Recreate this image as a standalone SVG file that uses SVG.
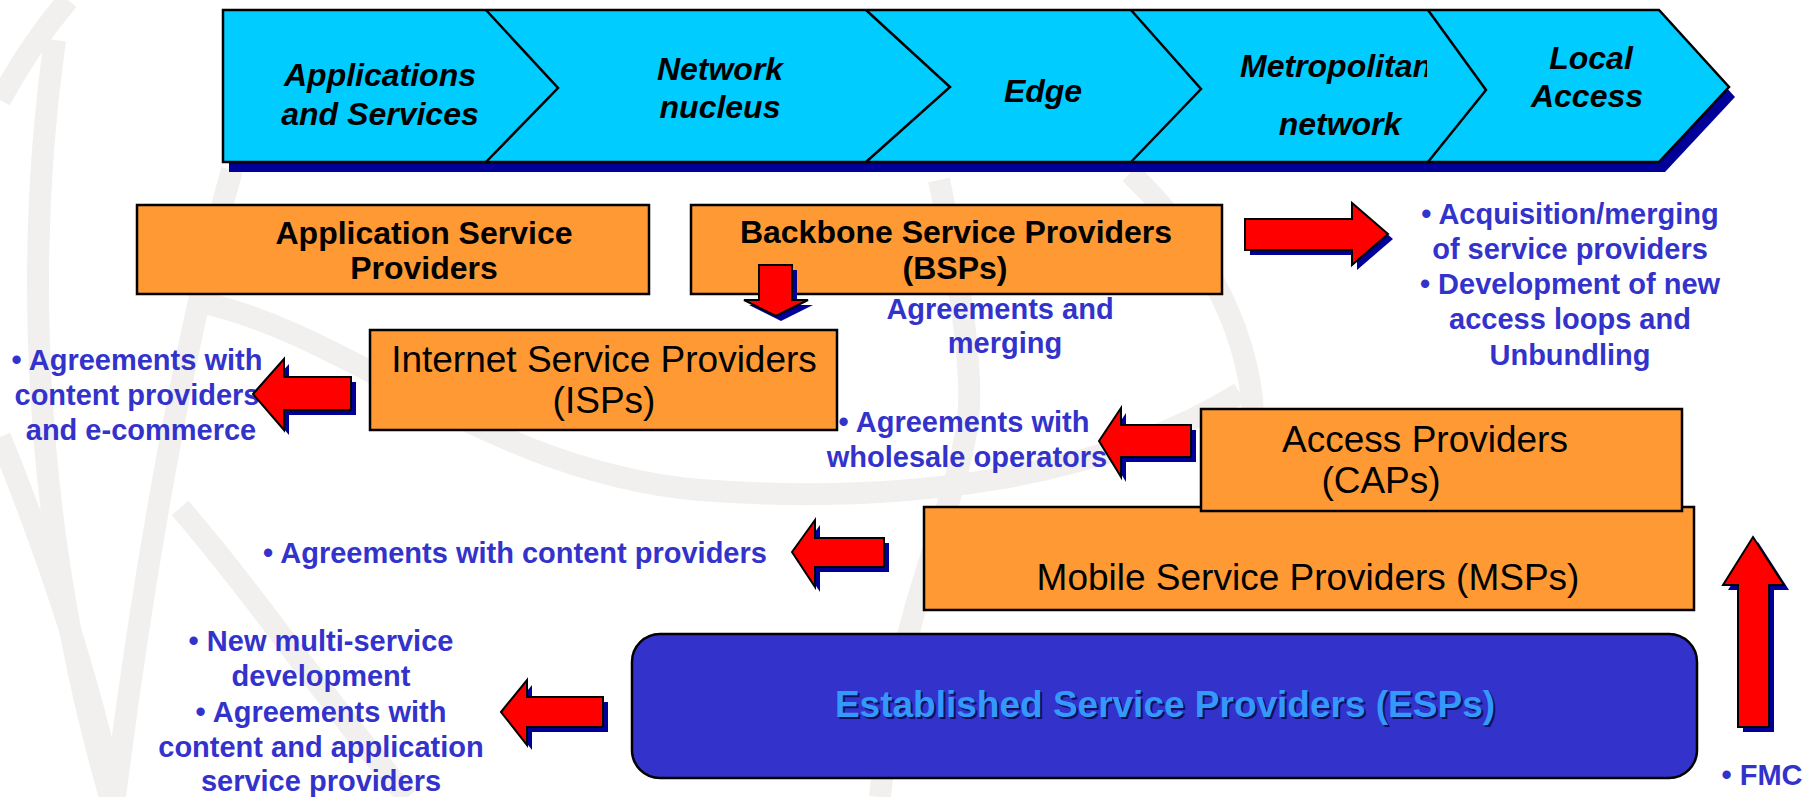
<svg xmlns="http://www.w3.org/2000/svg" xmlns:xlink="http://www.w3.org/1999/xlink" width="1815" height="797" viewBox="0 0 1815 797">
  <style>
    .bg { fill: none; stroke: #F1F0EE; stroke-width: 22; }
    .band { fill: #00CCFF; stroke: #000; stroke-width: 2.5; stroke-linejoin: miter; }
    .sep { fill: none; stroke: #000; stroke-width: 2.5; }
    .navy { fill: #000099; stroke: none; }
    .box { fill: #FF9933; stroke: #000; stroke-width: 2.5; }
    .esp { fill: #3333CC; stroke: #000; stroke-width: 2.5; }
    .arr { fill: #FF0000; stroke: #000; stroke-width: 2; stroke-linejoin: miter; }
    .bi { font-family: "Liberation Sans", Arial, sans-serif; font-size: 32px; font-weight: bold; font-style: italic; fill: #000; text-anchor: middle; }
    .bb { font-family: "Liberation Sans", Arial, sans-serif; font-size: 32px; font-weight: bold; fill: #000; text-anchor: middle; }
    .rg { font-family: "Liberation Sans", Arial, sans-serif; font-size: 37px; fill: #000; text-anchor: middle; }
    .bl { font-family: "Liberation Sans", Arial, sans-serif; font-size: 29px; font-weight: bold; fill: #3333CC; text-anchor: middle; }
    .et { font-family: "Liberation Sans", Arial, sans-serif; font-size: 37px; font-weight: bold; text-anchor: middle; }
  </style>
  <defs>
    <clipPath id="metroClip"><rect x="1200" y="40" width="227" height="50"/></clipPath>
    <polygon id="aISP" points="253,394 284,359 284,377 351,377 351,410 284,410 284,430"/>
    <polygon id="aCAP" points="1099,441 1121,408 1121,425 1191,425 1191,457 1121,457 1121,477"/>
    <polygon id="aMSP" points="792,552 815,520 815,538 884,538 884,567 815,567 815,587"/>
    <polygon id="aESP" points="501,712 527,680 527,697 603,697 603,727 527,727 527,745"/>
    <polygon id="aBSP" points="1245,219 1352,219 1352,203 1388,234 1352,265 1352,250 1245,250"/>
    <polygon id="aDown" points="759,265 792,265 792,300 808,300 776,316 744,300 759,300"/>
    <polygon id="aUp" points="1753,537 1784,585 1769,585 1769,727 1738,727 1738,585 1723,585"/>
  </defs>

  <rect x="0" y="0" width="1815" height="797" fill="#FFFFFF"/>

  <g id="background">
    <path class="bg" d="M 68,0 Q 30,45 0,100"/>
    <path class="bg" d="M 55,40 C 25,250 30,520 110,797"/>
    <path class="bg" d="M 232,170 C 195,300 150,520 115,797"/>
    <path class="bg" d="M 180,508 C 260,600 340,720 408,797"/>
    <path class="bg" d="M 0,437 C 50,560 90,680 114,797"/>
    <path class="bg" d="M 190,300 C 350,330 480,470 700,490 C 900,505 1100,480 1240,393"/>
    <path class="bg" d="M 939,180 C 960,280 975,380 967,427 C 950,530 900,600 880,797"/>
    <path class="bg" d="M 1130,173 C 1180,220 1240,300 1252,398 C 1258,470 1230,540 1214,563"/>
  </g>

  <g id="banner">
    <polygon class="navy" points="229,20 1665,20 1735,97 1665,172 229,172"/>
    <polygon class="band" points="223,10 1659,10 1729,87 1659,162 223,162"/>
    <polyline class="sep" points="486,10 558,88 486,162"/>
    <polyline class="sep" points="866,10 950,87 866,162"/>
    <polyline class="sep" points="1131,10 1201,89 1131,162"/>
    <polyline class="sep" points="1428,10 1486,90 1428,162"/>
    <text class="bi" x="380" y="86">Applications</text>
    <text class="bi" x="380" y="125">and Services</text>
    <text class="bi" x="720" y="80">Network</text>
    <text class="bi" x="720" y="118">nucleus</text>
    <text class="bi" x="1043" y="102">Edge</text>
    <text class="bi" x="1240" y="77" clip-path="url(#metroClip)" style="text-anchor:start">Metropolitan</text>
    <text class="bi" x="1340" y="135">network</text>
    <text class="bi" x="1591" y="69">Local</text>
    <text class="bi" x="1587" y="107">Access</text>
  </g>

  <g id="asp">
    <rect class="box" x="137" y="205" width="512" height="89"/>
    <text class="bb" x="424" y="244">Application Service</text>
    <text class="bb" x="424" y="279">Providers</text>
  </g>

  <g id="bsp">
    <rect class="box" x="691" y="205" width="531" height="89"/>
    <text class="bb" x="956" y="243">Backbone Service Providers</text>
    <text class="bb" x="955" y="279">(BSPs)</text>
  </g>

  <g id="isp">
    <rect class="box" x="370" y="330" width="467" height="100"/>
    <text class="rg" x="604" y="372">Internet Service Providers</text>
    <text class="rg" x="604" y="413">(ISPs)</text>
  </g>

  <g id="msp">
    <rect class="box" x="924" y="507" width="770" height="103"/>
    <text class="rg" x="1308" y="590">Mobile Service Providers (MSPs)</text>
  </g>

  <g id="cap">
    <rect class="box" x="1201" y="409" width="481" height="102"/>
    <text class="rg" x="1425" y="452">Access Providers</text>
    <text class="rg" x="1381" y="493">(CAPs)</text>
  </g>

  <g id="esp">
    <rect class="esp" x="632" y="634" width="1065" height="144" rx="28" ry="28"/>
    <text class="et" x="1167" y="719" fill="#10105A">Established Service Providers (ESPs)</text>
    <text class="et" x="1165" y="717" fill="#3399FF">Established Service Providers (ESPs)</text>
  </g>

  <g id="labels">
    <text class="bl" x="1000" y="319">Agreements and</text>
    <text class="bl" x="1005" y="353">merging</text>
    <text class="bl" x="1570" y="224">• Acquisition/merging</text>
    <text class="bl" x="1570" y="259">of service providers</text>
    <text class="bl" x="1570" y="294">• Development of new</text>
    <text class="bl" x="1570" y="329">access loops and</text>
    <text class="bl" x="1570" y="365">Unbundling</text>
    <text class="bl" x="137" y="370">• Agreements with</text>
    <text class="bl" x="137" y="405">content providers</text>
    <text class="bl" x="141" y="440">and e-commerce</text>
    <text class="bl" x="964" y="432">•  Agreements with</text>
    <text class="bl" x="967" y="467">wholesale operators</text>
    <text class="bl" x="515" y="563">• Agreements with content providers</text>
    <text class="bl" x="321" y="651">• New multi-service</text>
    <text class="bl" x="321" y="686">development</text>
    <text class="bl" x="321" y="722">• Agreements with</text>
    <text class="bl" x="321" y="757">content and application</text>
    <text class="bl" x="321" y="791">service providers</text>
    <text class="bl" x="1762" y="785">• FMC</text>
  </g>

  <g id="connectors">
    <use href="#aDown" xlink:href="#aDown" class="navy" transform="translate(5,5)"/>
    <use href="#aDown" xlink:href="#aDown" class="arr"/>
    <use href="#aBSP" xlink:href="#aBSP" class="navy" transform="translate(5,5)"/>
    <use href="#aBSP" xlink:href="#aBSP" class="arr"/>
    <use href="#aISP" xlink:href="#aISP" class="navy" transform="translate(5,5)"/>
    <use href="#aISP" xlink:href="#aISP" class="arr"/>
    <use href="#aCAP" xlink:href="#aCAP" class="navy" transform="translate(5,5)"/>
    <use href="#aCAP" xlink:href="#aCAP" class="arr"/>
    <use href="#aMSP" xlink:href="#aMSP" class="navy" transform="translate(5,5)"/>
    <use href="#aMSP" xlink:href="#aMSP" class="arr"/>
    <use href="#aESP" xlink:href="#aESP" class="navy" transform="translate(5,5)"/>
    <use href="#aESP" xlink:href="#aESP" class="arr"/>
    <use href="#aUp" xlink:href="#aUp" class="navy" transform="translate(5,5)"/>
    <use href="#aUp" xlink:href="#aUp" class="arr"/>
  </g>
</svg>
